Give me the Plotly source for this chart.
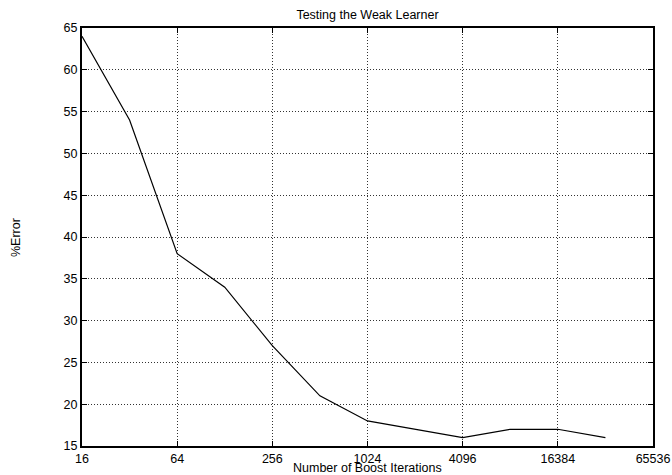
import plotly.graph_objects as go
import math

iterations = [16, 32, 64, 128, 256, 512, 1024, 4096, 8192, 16384, 32768]
error_pct = [64, 54, 38, 34, 27, 21, 18, 16, 17, 17, 16]
x_ticks = [16, 64, 256, 1024, 4096, 16384, 65536]
y_ticks = [15, 20, 25, 30, 35, 40, 45, 50, 55, 60, 65]

fig = go.Figure()
fig.add_trace(go.Scatter(x=iterations, y=error_pct, mode="lines",
                         line=dict(color="black", width=1.2), showlegend=False))

fam = "Liberation Sans, Arial, sans-serif"
font = dict(family=fam, size=12.5, color="black")
grid_dash = "1px,2px"
fig.update_layout(
    width=672, height=475,
    margin=dict(l=82, r=19, t=28, b=29, autoexpand=False),
    plot_bgcolor="white", paper_bgcolor="white",
    font=font,
    title=dict(text="Testing the Weak Learner", x=0.5, xanchor="center",
               y=1 - 15 / 475, yanchor="middle", xref="paper",
               font=dict(size=12.5, family=fam)),
    xaxis=dict(type="log", range=[math.log10(16), math.log10(65536)],
               tickvals=x_ticks, ticktext=[str(v) for v in x_ticks],
               showgrid=True, gridcolor="#333", griddash=grid_dash, gridwidth=1,
               showline=True, linecolor="black", linewidth=2, mirror="allticks",
               ticks="inside", ticklen=5, tickcolor="black", tickwidth=1,
               zeroline=False, tickfont=dict(size=12.5), automargin=False),
    yaxis=dict(range=[15, 65], tickvals=y_ticks,
               showgrid=True, gridcolor="#333", griddash=grid_dash, gridwidth=1,
               showline=True, linecolor="black", linewidth=2, mirror="allticks",
               ticks="inside", ticklen=5, tickcolor="black", tickwidth=1,
               zeroline=False, tickfont=dict(size=12.5), automargin=False),
    annotations=[
        dict(text="Number of Boost Iterations", xref="paper", yref="paper",
             x=0.5, y=-(476 - 446) / 418, xanchor="center", yanchor="bottom",
             showarrow=False, font=dict(size=12.5), borderpad=0),
        dict(text="%Error", xref="paper", yref="paper",
             x=-(82 - 16) / 571, y=(446 - 238) / 418, xanchor="center", yanchor="middle",
             textangle=-90, showarrow=False, font=dict(size=12.5)),
    ],
)
fig.write_html("out.html", config={"displayModeBar": False},
               post_script="document.body.style.margin='0';document.body.style.overflow='hidden';")
